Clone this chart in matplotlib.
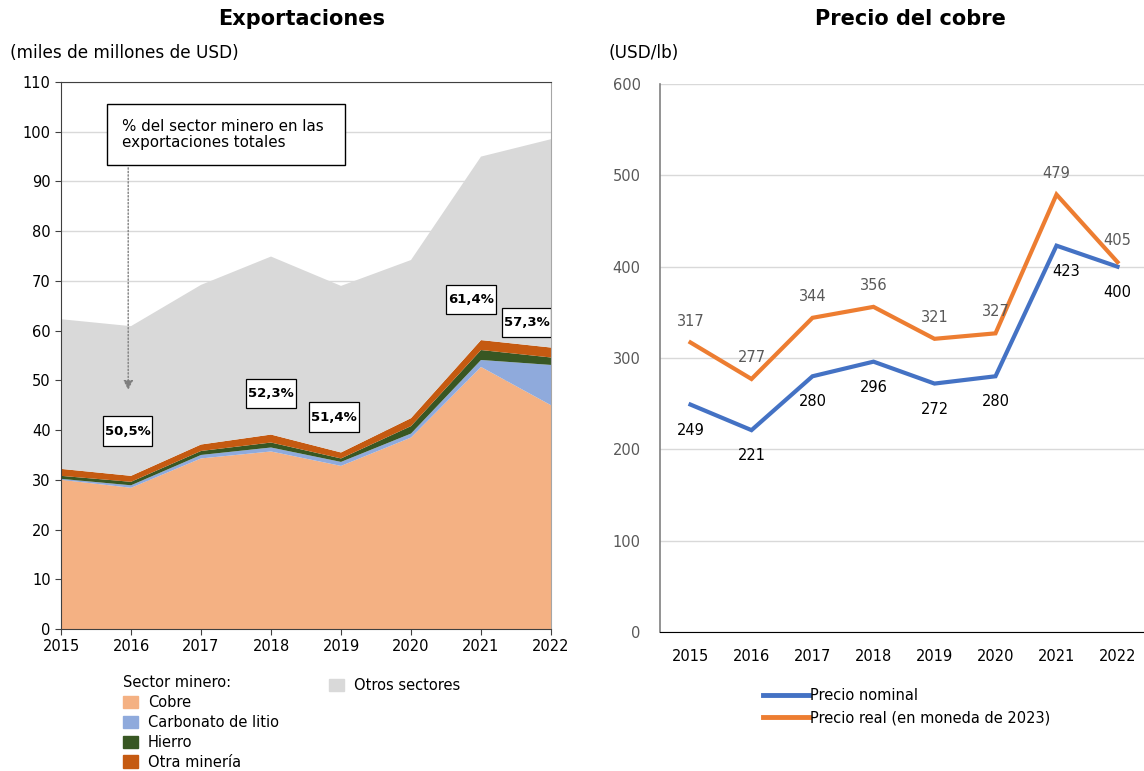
import numpy as np
import matplotlib.pyplot as plt
from matplotlib.patches import Patch, Rectangle
from matplotlib.lines import Line2D

plt.rcParams['font.family'] = ['DejaVu Sans']

# Exportaciones (miles de millones de USD)
years = [2015, 2016, 2017, 2018, 2019, 2020, 2021, 2022]
cobre = [30.0, 28.4, 34.3, 35.7, 32.8, 38.5, 52.7, 45.0]
litio = [0.2, 0.5, 0.7, 0.8, 0.8, 0.8, 1.4, 8.1]
hierro = [0.6, 0.7, 0.8, 1.0, 0.7, 1.5, 2.0, 1.5]
otra_mineria = [1.4, 1.2, 1.3, 1.6, 1.2, 1.6, 2.0, 2.0]
total = [62.3, 60.9, 69.2, 74.9, 69.0, 74.2, 95.0, 98.5]

pct_years = [2016, 2018, 2019, 2021, 2022]
pct_labels = ["50,5%", "52,3%", "51,4%", "61,4%", "57,3%"]

# Precio del cobre (USD/lb)
precio_nominal = [249, 221, 280, 296, 272, 280, 423, 400]
precio_real = [317, 277, 344, 356, 321, 327, 479, 405]

mineria = np.array(cobre) + np.array(litio) + np.array(hierro) + np.array(otra_mineria)
otros = np.array(total) - mineria

c_cobre = "#F4B183"
c_litio = "#8FAADC"
c_hierro = "#385723"
c_otra = "#C55A11"
c_otros = "#D9D9D9"
c_nom = "#4472C4"
c_real = "#ED7D31"

W, H = 1144, 771
fig = plt.figure(figsize=(W / 100, H / 100), dpi=100)

# ---------------- Exportaciones ----------------
ax1 = fig.add_axes([61 / W, 1 - 629 / H, 490 / W, 547 / H])
ax1.stackplot(years, cobre, litio, hierro, otra_mineria, otros,
              colors=[c_cobre, c_litio, c_hierro, c_otra, c_otros], lw=0)
ax1.set_xlim(2015, 2022)
ax1.set_ylim(0, 110)
ax1.set_yticks(range(0, 111, 10))
ax1.set_xticks(years)
ax1.grid(axis='y', color='#d9d9d9', lw=1)
ax1.set_axisbelow(True)
ax1.tick_params(labelsize=10.5, direction='out', length=4, color='#404040')
for s in ax1.spines.values():
    s.set_color('#404040')
ax1.spines['right'].set_color('#a6a6a6')

# position of the % boxes (layout only)
pct_y = [39.8, 47.3, 42.6, 66.2, 61.7]
pct_dx = [-0.05, 0.0, -0.1, -0.14, -0.35]
box_w, box_h = 0.71, 5.9
for yr, lab, py, dx in zip(pct_years, pct_labels, pct_y, pct_dx):
    ax1.add_patch(Rectangle((yr + dx - box_w / 2, py - box_h / 2), box_w, box_h,
                            fc='white', ec='black', lw=0.9, zorder=3))
    ax1.text(yr + dx, py, lab, ha='center', va='center', fontsize=9.5,
             fontweight='bold', zorder=4)

ax1.add_patch(Rectangle((2015.657, 93.3), 3.4, 12.3, fc='white', ec='black',
                        lw=1, zorder=3))
ax1.text(2015.87, 99.5, "% del sector minero en las\nexportaciones totales",
         ha='left', va='center', fontsize=10.9, zorder=4, linespacing=1.1)
ax1.annotate("", xy=(2015.96, 47.5), xytext=(2015.96, 93.3),
             arrowprops=dict(arrowstyle='-|>', color='#7f7f7f', lw=1,
                             linestyle=(0, (1, 1.5)), mutation_scale=14))

fig.text(10 / W, 1 - 53 / H, "(miles de millones de USD)", fontsize=12.2,
         va='center', ha='left')
fig.text(302 / W, 1 - 19 / H, "Exportaciones", fontsize=15, fontweight='bold',
         ha='center', va='center')

fig.legend(handles=[Patch(color=c_cobre), Patch(color=c_litio),
                    Patch(color=c_hierro), Patch(color=c_otra)],
           labels=["Cobre", "Carbonato de litio", "Hierro", "Otra minería"],
           title="Sector minero:", title_fontsize=10.5, fontsize=10.5,
           loc='upper left', bbox_to_anchor=(116 / W, 1 - 668 / H),
           frameon=False, handlelength=1.0, handleheight=0.9,
           handletextpad=0.7, labelspacing=0.33, borderpad=0,
           alignment='left')
fig.legend(handles=[Patch(color=c_otros)], labels=["Otros sectores"],
           fontsize=10.5, loc='upper left',
           bbox_to_anchor=(322 / W, 1 - 671 / H), frameon=False,
           handlelength=1.0, handleheight=0.9, handletextpad=0.7,
           borderpad=0)

# ---------------- Precio del cobre ----------------
ax2 = fig.add_axes([660 / W, 1 - 632 / H, 488 / W, 548 / H])
x = np.arange(len(years))
ax2.plot(x, precio_nominal, color=c_nom, lw=3, solid_joinstyle='miter')
ax2.plot(x, precio_real, color=c_real, lw=3, solid_joinstyle='miter')
ax2.set_xlim(-0.5, len(years) - 0.5)
ax2.set_ylim(0, 600)
ax2.set_yticks(range(0, 601, 100))
ax2.set_xticks(x)
ax2.set_xticklabels([str(y) for y in years])
ax2.grid(axis='y', color='#d9d9d9', lw=1)
ax2.set_axisbelow(True)
ax2.tick_params(axis='y', length=0, pad=14, labelsize=10.5, labelcolor='#595959')
ax2.tick_params(axis='x', length=0, pad=12, labelsize=10.5)
for s in ['top', 'right']:
    ax2.spines[s].set_visible(False)
ax2.spines['left'].set_color('#808080')
ax2.spines['left'].set_linewidth(1.2)
ax2.spines['bottom'].set_color('black')

for i, v in enumerate(precio_real):
    ax2.annotate(str(v), (i, v), xytext=(0, 10), textcoords='offset points',
                 ha='center', va='bottom', fontsize=10.5, color='#595959')
nom_dx = [0, 0, 0, 0, 0, 0, 7, 0]
for i, v in enumerate(precio_nominal):
    ax2.annotate(str(v), (i, v), xytext=(nom_dx[i], -13),
                 textcoords='offset points', ha='center', va='top',
                 fontsize=10.5, color='black')

fig.text(608 / W, 1 - 53 / H, "(USD/lb)", fontsize=12.2, va='center', ha='left')
fig.text(910 / W, 1 - 19 / H, "Precio del cobre", fontsize=15,
         fontweight='bold', ha='center', va='center')

fig.legend(handles=[Line2D([], [], color=c_nom, lw=3.5),
                    Line2D([], [], color=c_real, lw=3.5)],
           labels=["Precio nominal", "Precio real (en moneda de 2023)"],
           fontsize=10.5, loc='upper left', bbox_to_anchor=(756 / W, 1 - 681 / H),
           frameon=False, handlelength=3.1, handletextpad=0.1,
           labelspacing=0.5, borderpad=0)

fig.savefig("out.png", dpi=100)
